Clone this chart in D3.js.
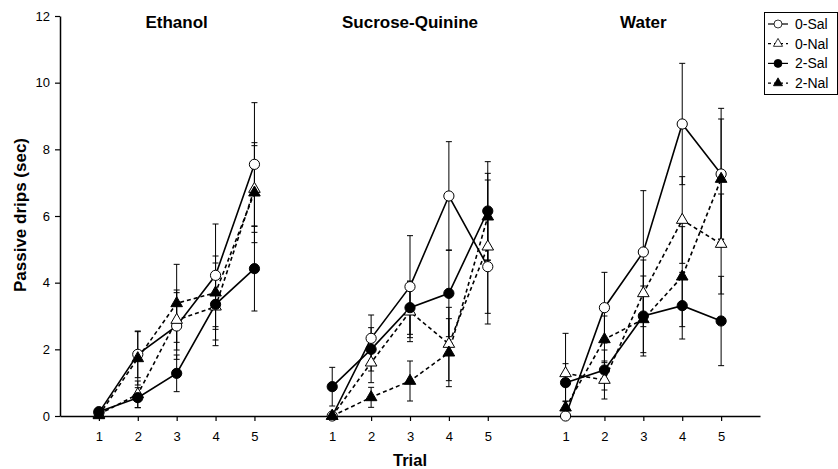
<!DOCTYPE html>
<html>
<head>
<meta charset="utf-8">
<script src="https://cdn.jsdelivr.net/npm/d3@7"></script>
<style>
  body { margin: 0; background: #fff; }
  svg { font-family: Arial, "Liberation Sans", sans-serif; }
</style>
</head>
<body>
<script>
// panels and trials
var groups = ["Ethanol", "Sucrose-Quinine", "Water"];
var trials = [1, 2, 3, 4, 5];
var yTicks = [0, 2, 4, 6, 8, 10, 12];

// means, 5 trials per panel (Ethanol, Sucrose-Quinine, Water)
var mean0Sal = [0.1, 1.85, 2.7, 4.22, 7.55,   0, 2.33, 3.88, 6.6, 4.48,   0, 3.25, 4.92, 8.76, 7.26];
var mean0Nal = [0.05, 0.65, 2.88, 3.28, 6.81, 0, 1.6, 3.13, 2.16, 5.08,   1.28, 1.08, 3.68, 5.88, 5.16];
var mean2Sal = [0.13, 0.55, 1.28, 3.35, 4.42, 0.88, 2.0, 3.25, 3.68, 6.15, 1.0, 1.38, 3.0, 3.31, 2.85];
var mean2Nal = [0.02, 1.73, 3.38, 3.7, 6.7,   0, 0.56, 1.05, 1.9, 5.98,   0.25, 2.3, 2.9, 4.18, 7.11];

// standard errors
var se0Sal = [0.05, 0.7, 1.0, 1.54, 1.85,  0, 0.7, 1.53, 1.63, 1.72,   0, 1.06, 1.84, 1.82, 1.97];
var se0Nal = [0.05, 0.4, 0.9, 1.0, 1.3,    0, 0.6, 0.9, 1.1, 2.0,      1.2, 0.57, 1.0, 1.3, 1.5];
var se2Sal = [0.05, 0.3, 0.55, 1.24, 1.27, 0.58, 0.65, 0.8, 1.3, 1.48, 0.57, 0.6, 1.2, 1.0, 1.34];
var se2Nal = [0.02, 0.8, 1.17, 1.1, 1.5,   0, 0.3, 0.6, 1.02, 1.3,     0.2, 0.7, 1.0, 1.5, 1.8];

var series = [
  {name: "0-Sal", mean: mean0Sal, se: se0Sal, shape: "circle", fill: "#fff", dash: null},
  {name: "0-Nal", mean: mean0Nal, se: se0Nal, shape: "triangle", fill: "#fff", dash: "4,3"},
  {name: "2-Sal", mean: mean2Sal, se: se2Sal, shape: "circle", fill: "#000", dash: null},
  {name: "2-Nal", mean: mean2Nal, se: se2Nal, shape: "triangle", fill: "#000", dash: "4,3"}
];

var width = 838, height = 469;

var svg = d3.select("body").append("svg")
  .attr("width", width)
  .attr("height", height);

// one continuous x axis, 6 units per panel
var x = d3.scaleLinear().domain([0, 18]).range([60, 760]);
var y = d3.scaleLinear().domain([0, 12]).range([416, 16]);

function pos(g, t) { return g * 6 + t; }

var tickPos = [];
var tickLab = {};
groups.forEach(function(g, gi) {
  trials.forEach(function(t) {
    tickPos.push(pos(gi, t));
    tickLab[pos(gi, t)] = t;
  });
});

var yAxis = svg.append("g")
  .attr("transform", "translate(60,0)")
  .call(d3.axisLeft(y).tickValues(yTicks).tickSize(5).tickSizeOuter(0).tickPadding(5));

var xAxis = svg.append("g")
  .attr("transform", "translate(0,416)")
  .call(d3.axisBottom(x).tickValues(tickPos).tickSize(5).tickSizeOuter(0).tickPadding(11)
    .tickFormat(function(d) { return tickLab[d]; }));

[yAxis, xAxis].forEach(function(a) {
  a.selectAll("text").attr("font-size", 13).attr("fill", "#000").attr("font-family", "Arial, 'Liberation Sans', sans-serif");
  a.selectAll("line").attr("stroke", "#000").attr("stroke-width", 1.2);
  a.select(".domain").attr("stroke", "#000").attr("stroke-width", 1.5);
});

// panel titles
svg.selectAll(".title")
  .data(groups)
  .enter().append("text")
  .attr("x", function(d, i) { return x(pos(i, 3)); })
  .attr("y", 28)
  .attr("text-anchor", "middle")
  .attr("font-size", 17)
  .attr("font-weight", "bold")
  .text(function(d) { return d; });

svg.append("text")
  .attr("x", x(pos(1, 3)))
  .attr("y", 466)
  .attr("text-anchor", "middle")
  .attr("font-size", 16.5)
  .attr("font-weight", "bold")
  .text("Trial");

svg.append("text")
  .attr("transform", "translate(26,215) rotate(-90)")
  .attr("text-anchor", "middle")
  .attr("font-size", 17)
  .attr("font-weight", "bold")
  .text("Passive drips (sec)");

function symbolPath(shape) {
  if (shape == "circle") return d3.symbol(d3.symbolCircle, 82)();
  return d3.symbol(d3.symbolTriangle, 58)();
}

// build points per series
series.forEach(function(s) {
  s.points = [];
  for (var i = 0; i < s.mean.length; i++) {
    var g = Math.floor(i / 5);
    s.points.push({g: g, u: pos(g, trials[i % 5]), m: s.mean[i], e: s.se[i]});
  }
});

// error bars
series.forEach(function(s) {
  var eb = svg.append("g").attr("stroke", "#000").attr("stroke-width", 1);
  var pts = s.points.filter(function(p) { return p.e > 0; });
  eb.selectAll(".v").data(pts).enter().append("line")
    .attr("x1", function(p) { return x(p.u); })
    .attr("x2", function(p) { return x(p.u); })
    .attr("y1", function(p) { return y(p.m - p.e); })
    .attr("y2", function(p) { return y(p.m + p.e); });
  [-1, 1].forEach(function(sign) {
    eb.selectAll(".c" + sign).data(pts).enter().append("line")
      .attr("x1", function(p) { return x(p.u) - 3; })
      .attr("x2", function(p) { return x(p.u) + 3; })
      .attr("y1", function(p) { return y(p.m + sign * p.e); })
      .attr("y2", function(p) { return y(p.m + sign * p.e); });
  });
});

var line = d3.line()
  .x(function(p) { return x(p.u); })
  .y(function(p) { return y(p.m); });

// lines, one per panel
series.forEach(function(s) {
  groups.forEach(function(g, gi) {
    svg.append("path")
      .datum(s.points.filter(function(p) { return p.g == gi; }))
      .attr("d", line)
      .attr("fill", "none")
      .attr("stroke", "#000")
      .attr("stroke-width", 1.6)
      .attr("stroke-dasharray", s.dash);
  });
});

// markers
series.forEach(function(s) {
  svg.append("g").selectAll("path")
    .data(s.points)
    .enter().append("path")
    .attr("transform", function(p) { return "translate(" + x(p.u) + "," + y(p.m) + ")"; })
    .attr("d", symbolPath(s.shape))
    .attr("fill", s.fill)
    .attr("stroke", "#000")
    .attr("stroke-width", 1);
});

// legend
var legend = svg.append("g").attr("transform", "translate(764,12)");
legend.append("rect")
  .attr("x", 0.5).attr("y", 0.5)
  .attr("width", 73).attr("height", 82)
  .attr("fill", "#fff")
  .attr("stroke", "#000")
  .attr("stroke-width", 1);

var item = legend.selectAll(".item")
  .data(series)
  .enter().append("g")
  .attr("transform", function(d, i) { return "translate(0," + (12 + i * 19.7) + ")"; });

item.append("line")
  .attr("x1", 4).attr("x2", 24)
  .attr("stroke", "#000")
  .attr("stroke-width", 1.2)
  .attr("stroke-dasharray", function(d) { return d.dash ? "3,3" : null; });

item.append("path")
  .attr("transform", "translate(14,0)")
  .attr("d", function(d) { return d.shape == "circle" ? d3.symbol(d3.symbolCircle, 50)() : d3.symbol(d3.symbolTriangle, 36)(); })
  .attr("fill", function(d) { return d.fill; })
  .attr("stroke", "#000")
  .attr("stroke-width", 0.8);

item.append("text")
  .attr("x", 31)
  .attr("dy", "0.35em")
  .attr("font-size", 14)
  .text(function(d) { return d.name; });
</script>
</body>
</html>
